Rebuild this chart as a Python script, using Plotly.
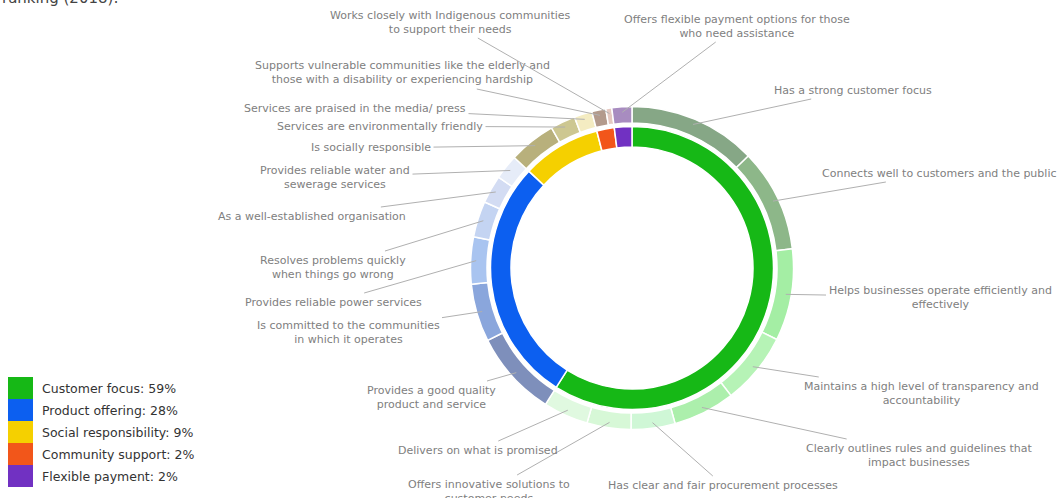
import math
import plotly.graph_objects as go

# inner ring: themes
categories = ["Customer focus", "Product offering", "Social responsibility",
              "Community support", "Flexible payment"]
category_values = [59, 28, 9, 2, 2]
category_colors = ["#16b816", "#0c5ff0", "#f5d000", "#f2561a", "#7131c2"]

# outer ring: attributes (clockwise from 12 o'clock)
attributes = [
    "Has a strong customer focus",
    "Connects well to customers and the public",
    "Helps businesses operate efficiently and<br>effectively",
    "Maintains a high level of transparency and<br>accountability",
    "Clearly outlines rules and guidelines that<br>impact businesses",
    "Has clear and fair procurement processes",
    "Offers innovative solutions to<br>customer needs",
    "Delivers on what is promised",
    "Provides a good quality<br>product and service",
    "Is committed to the communities<br>in which it operates",
    "Provides reliable power services",
    "Resolves problems quickly<br>when things go wrong",
    "As a well-established organisation",
    "Provides reliable water and<br>sewerage services",
    "Is socially responsible",
    "Services are environmentally friendly",
    "Services are praised in the media/ press",
    "Supports vulnerable communities like the elderly and<br>those with a disability or experiencing hardship",
    "Works closely with Indigenous communities<br>to support their needs",
    "Offers flexible payment options for those<br>who need assistance",
]
attribute_values = [12.8, 10.3, 9.2, 7.2, 6.2, 4.4, 4.4, 4.5,
                    8.6, 5.8, 4.7, 3.6, 2.8, 2.5,
                    4.7, 2.5, 1.8,
                    1.4, 0.6,
                    2.0]
attribute_colors = ["#86a786", "#8db789", "#a4eea4", "#b6f3b6", "#acefac",
                    "#cff7d6", "#d7f8d7", "#e0f9e0",
                    "#7e8fbb", "#8aa6dc", "#a9c4f0", "#c4d4f2", "#d3dcf3", "#e6ecf8",
                    "#b8b07c", "#cdc791", "#f4ecc2",
                    "#b39a8c", "#e5c8c0",
                    "#a88cc0"]

# label centres (pixels) for the outer ring callouts
label_x = [853, 939, 940, 921, 920, 723, 489, 478, 431, 348, 333, 333, 312, 335,
           371, 380, 355, 402, 450, 737]
label_y = [90, 173, 297, 393, 455, 485, 491, 450, 397, 332, 302, 267, 216, 177,
           148, 126, 108, 73, 22, 26]

W, H = 1058, 498
CX, CY = 632, 268
R_OUT, R_OUT_IN = 161.5, 145
R_IN, R_IN_IN = 141.5, 121
FONT = "DejaVu Sans, Verdana"


def dom(r):
    return dict(x=[(CX - r) / W, (CX + r) / W], y=[1 - (CY + r) / H, 1 - (CY - r) / H])


fig = go.Figure()
fig.add_trace(go.Pie(
    values=attribute_values, labels=attributes, sort=False, direction="clockwise",
    rotation=0, hole=R_OUT_IN / R_OUT, domain=dom(R_OUT), textinfo="none",
    marker=dict(colors=attribute_colors, line=dict(color="white", width=1.5)),
    showlegend=False, hoverinfo="label+value"))
fig.add_trace(go.Pie(
    values=category_values, labels=categories, sort=False, direction="clockwise",
    rotation=0, hole=R_IN_IN / R_IN, domain=dom(R_IN), textinfo="none",
    marker=dict(colors=category_colors, line=dict(color="white", width=1.5)),
    showlegend=False, hoverinfo="label+value"))

annotations = []
total = sum(attribute_values)
cum = 0
for name, v, tx, ty in zip(attributes, attribute_values, label_x, label_y):
    mid = (cum + v / 2) / total * 2 * math.pi
    cum += v
    px = CX + 156 * math.sin(mid)
    py = CY - 156 * math.cos(mid)
    annotations.append(dict(
        x=px / W, y=1 - py / H, xref="paper", yref="paper",
        text=name, showarrow=True, arrowhead=0, arrowwidth=1, arrowcolor="#b0b0b0",
        ax=tx - px, ay=ty - py, standoff=0, borderpad=2, align="center",
        font=dict(family=FONT, size=11, color="#808080")))

# legend
top = 377
row = 22
shapes = []
for i, (c, v, col) in enumerate(zip(categories, category_values, category_colors)):
    y0 = top + i * row
    shapes.append(dict(type="rect", xref="paper", yref="paper",
                       x0=8 / W, x1=33 / W, y0=1 - (y0 + row) / H, y1=1 - y0 / H,
                       fillcolor=col, line=dict(width=0)))
    annotations.append(dict(
        x=40 / W, y=1 - (y0 + row / 2) / H, xref="paper", yref="paper",
        xanchor="left", yanchor="middle", showarrow=False,
        text=f"{c}: {v}%",
        font=dict(family=FONT, size=12.5, color="#333333")))

# title (cut off at the top of the frame)
annotations.append(dict(
    x=0, y=1 + 2 / H, xref="paper", yref="paper", xanchor="left", yanchor="middle",
    showarrow=False, text="ranking (2018):",
    font=dict(family=FONT, size=15, color="#444444")))

fig.update_layout(
    width=W, height=H, margin=dict(l=0, r=0, t=0, b=0),
    paper_bgcolor="white", plot_bgcolor="white",
    annotations=annotations, shapes=shapes)

fig.write_html("out.html", config={"displayModeBar": False},
               post_script="document.body.style.margin='0';")
